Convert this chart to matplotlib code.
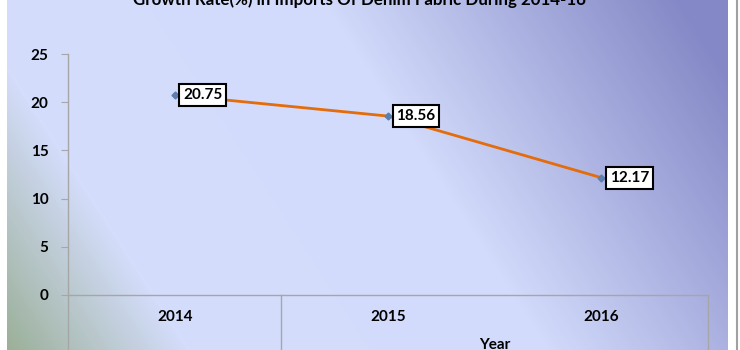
import numpy as np
import matplotlib
matplotlib.use('Agg')
import matplotlib.pyplot as plt
from matplotlib.colors import LinearSegmentedColormap

# chart data
years = ['2014', '2015', '2016']
growth = [20.75, 18.56, 12.17]
y_ticks = [0, 5, 10, 15, 20, 25]
title = 'Growth Rate(%) in Imports Of Denim Fabric During 2014-16'
group_label = 'Year'

W, H = 740, 350
plt.rcParams['font.family'] = ['Lato', 'DejaVu Sans']

fig = plt.figure(figsize=(W / 100, H / 100), dpi=100)
fig.patch.set_facecolor('white')

# gradient background of the chart area
bg_left, bg_right = 7, 728
gw = bg_right - bg_left
xx, yy = np.meshgrid(np.linspace(0, 1, gw), np.linspace(1, 0, H))
t = 0.8 * xx + 0.25 * yy
cmap = LinearSegmentedColormap.from_list('bg', [
    (0.0, '#9bb099'), (0.2, '#d4ddfb'), (0.6, '#d2dbfb'), (1.0, '#8488c6')
])
bg = fig.add_axes([bg_left / W, 0, gw / W, 1])
bg.imshow(np.clip(t, 0, 1), cmap=cmap, vmin=0, vmax=1, aspect='auto',
          interpolation='bilinear')
bg.axis('off')

# frame line at right
fig.add_artist(plt.Line2D([736.5 / W] * 2, [0, 1], color='#a0a0a0', lw=1.5))

# plot area
x0, x1, y0, y1 = 68, 708, 295, 54
ax = fig.add_axes([x0 / W, (H - y0) / H, (x1 - x0) / W, (y0 - y1) / H])
ax.patch.set_alpha(0)
ax.set_xlim(0, 3)
ax.set_ylim(0, 25)
for s in ['top', 'right']:
    ax.spines[s].set_visible(False)
for s in ['left', 'bottom']:
    ax.spines[s].set_color('#a6a6a6')
    ax.spines[s].set_linewidth(1)

ax.set_yticks(y_ticks)
ax.set_yticklabels([str(v) for v in y_ticks], fontsize=11, fontweight='bold')
ax.tick_params(axis='y', length=5, color='#a6a6a6', pad=9)

xs = np.arange(len(years)) + 0.5
ax.set_xticks(xs)
ax.set_xticklabels(years, fontsize=11, fontweight='bold')
ax.tick_params(axis='x', length=0, pad=11)

# category dividers below the axis
per_px = 25 / (y0 - y1)
y_bottom = -(H - y0) * per_px
for xv in [0, 1, 3]:
    ax.plot([xv, xv], [0, y_bottom], color='#a6a6a6', lw=1, clip_on=False)
ax.text(2.0, -(345 - y0) * per_px, group_label, ha='center', va='center',
        fontsize=11, fontweight='bold', clip_on=False)

ax.plot(xs, growth, color='#e46c0a', lw=2, marker='D', markersize=3.5,
        markerfacecolor='#5a7fb0', markeredgecolor='#5a7fb0', zorder=3)

for xv, v in zip(xs, growth):
    ax.annotate(f'{v:.2f}', (xv, v), xytext=(6, 0), textcoords='offset points',
                ha='left', va='center', fontsize=11, fontweight='bold',
                bbox=dict(boxstyle='square,pad=0.25', fc='white', ec='black', lw=1.5),
                zorder=4)

fig.text(359 / W, 1 - 5.5 / H, title, ha='center', va='baseline',
         fontsize=12.2, fontweight='bold')

fig.savefig('out.png', dpi=100)
